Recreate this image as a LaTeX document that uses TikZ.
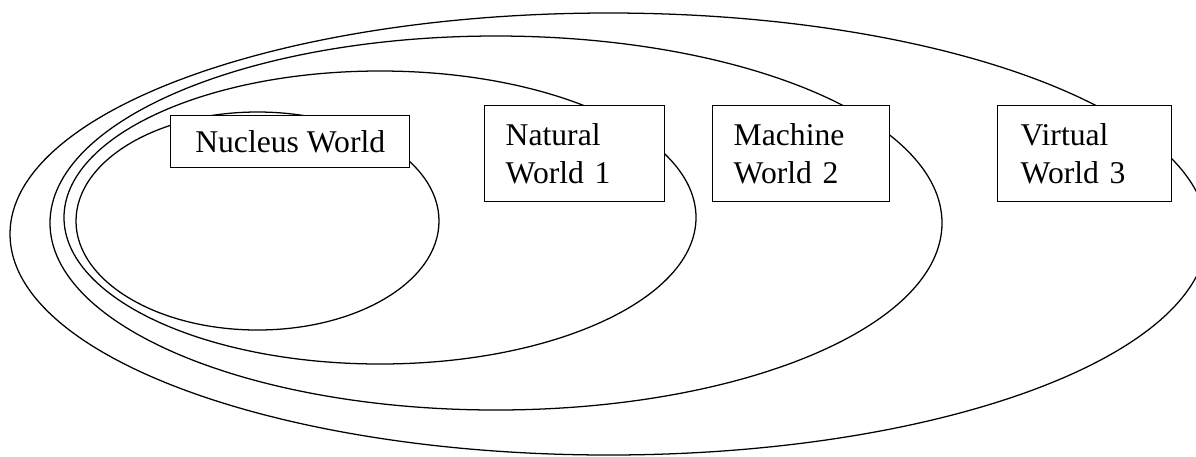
\documentclass[tikz,border=0pt]{standalone}
\usepackage{fontspec}
\setmainfont{Liberation Serif}
\begin{document}
\begin{tikzpicture}[x=0.025cm, y=-0.025cm]
    \tikzstyle{world}=[draw, line width=0.9pt]
    \tikzstyle{worldbox}=[draw, fill=white, line width=1pt, anchor=north west, align=left, inner ysep=0pt, font=\fontsize{22.5}{26.5}\selectfont]
    \useasboundingbox (0,0) rectangle (1196,456);
    % draw worlds

    \foreach \cx/\cy/\rx/\ry in {608.7/234/598.7/221, 496/223/446/187, 380/217.5/316/146.5, 257.5/221/181.5/109}
    \draw [world] (\cx,\cy) ellipse [x radius=\rx, y radius=\ry];

    % draw names

    \node [worldbox, align=center, minimum width=5.975cm, minimum height=1.3cm] (nucleus) at (170,115) {Nucleus World};

    \foreach \n/\x/\w/\t/\l in {natural/484/4.5cm/3.45cm/{Natural\\World 1}, machine/712/4.425cm/3.375cm/{Machine\\World 2}, virtual/997/4.35cm/3.2cm/{Virtual\\World 3}}
    \node [worldbox, minimum width=\w, text width=\t, minimum height=2.4cm] (\n) at (\x,105) {\l};

\end{tikzpicture}
\end{document}
